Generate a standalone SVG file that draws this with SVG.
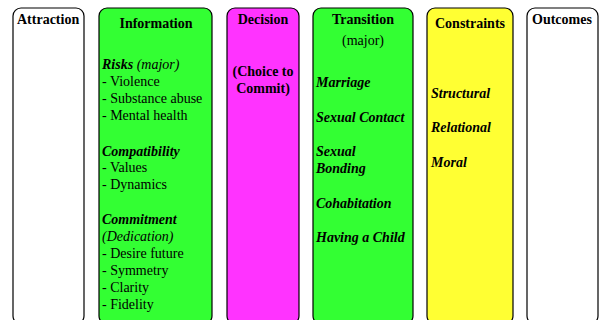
<svg xmlns="http://www.w3.org/2000/svg" width="602" height="320" viewBox="0 0 602 320">
<style>
.box{stroke:#000;stroke-width:1.2}
.t{font-family:"Liberation Serif","Times New Roman",serif;font-size:14px;fill:#000}
.b{font-weight:bold}
.bi{font-weight:bold;font-style:italic}
.i{font-style:italic}
.c{text-anchor:middle}
</style>
<rect width="602" height="320" fill="#fff"/>
<g id="attraction">
<rect class="box" x="13" y="8" width="71" height="316" rx="8" fill="#fff"/>
<text class="t b" x="17" y="24">Attraction</text>
</g>
<g id="information">
<rect class="box" x="99" y="8" width="113" height="316" rx="8" fill="#33ff33"/>
<text class="t b c" x="156" y="28">Information</text>
<text class="t" x="102" y="69"><tspan class="bi">Risks</tspan><tspan class="i"> (major)</tspan></text>
<text class="t" x="102" y="86">- Violence</text>
<text class="t" x="102" y="103">- Substance abuse</text>
<text class="t" x="102" y="120">- Mental health</text>
<text class="t bi" x="102" y="156">Compatibility</text>
<text class="t" x="102" y="172">- Values</text>
<text class="t" x="102" y="189">- Dynamics</text>
<text class="t bi" x="102" y="224">Commitment</text>
<text class="t i" x="102" y="241">(Dedication)</text>
<text class="t" x="102" y="258">- Desire future</text>
<text class="t" x="102" y="275">- Symmetry</text>
<text class="t" x="102" y="292">- Clarity</text>
<text class="t" x="102" y="309">- Fidelity</text>
</g>
<g id="decision">
<rect class="box" x="227" y="8" width="72" height="316" rx="8" fill="#ff33ff"/>
<text class="t b c" x="263" y="24">Decision</text>
<text class="t b c" x="263" y="76">(Choice to</text>
<text class="t b c" x="263" y="93">Commit)</text>
</g>
<g id="transition">
<rect class="box" x="313" y="8" width="100" height="316" rx="8" fill="#33ff33"/>
<text class="t b c" x="363" y="24">Transition</text>
<text class="t c" x="363" y="45">(major)</text>
<text class="t bi" x="316" y="87">Marriage</text>
<text class="t bi" x="316" y="122">Sexual Contact</text>
<text class="t bi" x="316" y="156">Sexual</text>
<text class="t bi" x="316" y="173">Bonding</text>
<text class="t bi" x="316" y="208">Cohabitation</text>
<text class="t bi" x="316" y="242">Having a Child</text>
</g>
<g id="constraints">
<rect class="box" x="427" y="8" width="86" height="316" rx="8" fill="#ffff33"/>
<text class="t b c" x="470" y="28">Constraints</text>
<text class="t bi" x="431" y="98">Structural</text>
<text class="t bi" x="431" y="132">Relational</text>
<text class="t bi" x="431" y="167">Moral</text>
</g>
<g id="outcomes">
<rect class="box" x="527" y="8" width="71" height="316" rx="8" fill="#fff"/>
<text class="t b" x="532" y="24">Outcomes</text>
</g>
<g id="connectors"></g>
</svg>
